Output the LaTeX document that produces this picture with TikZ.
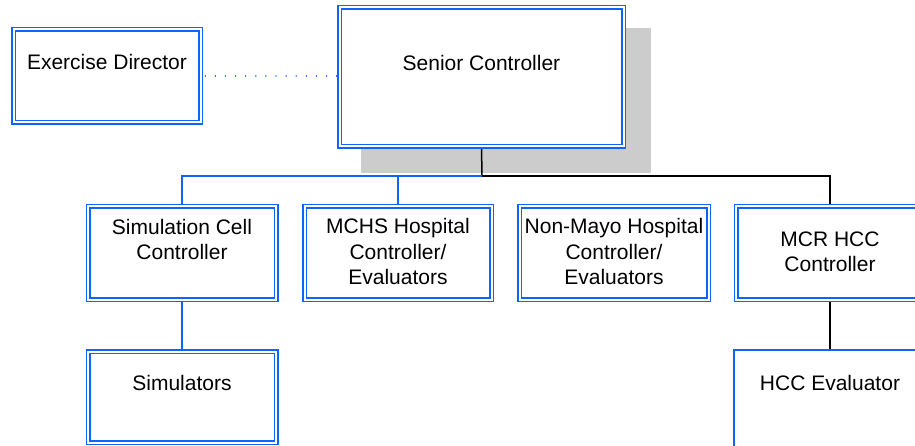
\documentclass[tikz,border=0pt]{standalone}
\usepackage{fontspec}
\setmainfont{Liberation Sans}
\definecolor{bblue}{RGB}{15,100,255}
\definecolor{sgray}{RGB}{204,204,204}
\pgfdeclarelayer{shadowlayer}
\pgfdeclarelayer{linelayer}
\pgfsetlayers{shadowlayer,linelayer,main}
\begin{document}
\begin{tikzpicture}[x=1pt,y=-1pt,
  dbox/.style={draw=bblue, double=white, double distance=2pt, line width=1.5pt, fill=white, rectangle, inner sep=0pt},
  sbox/.style={draw=bblue, line width=1.7pt, fill=white, rectangle, inner sep=0pt},
  lbl/.style={font=\fontsize{21}{25.3}\selectfont, align=center, anchor=base, inner sep=0pt, text=black},
  bline/.style={draw=bblue, line width=1.5pt},
  kline/.style={draw=black, line width=1.5pt},
  dotline/.style={draw=bblue, line width=1.3pt, line cap=round, dash pattern=on 0.1pt off 10pt, dash phase=-4pt}]
\useasboundingbox (0,0) rectangle (915,446);
\clip (0,0) rectangle (915,446);
% boxes
\node[dbox, minimum width=187pt, minimum height=93pt] (ed) at (107,76) {};
\node[dbox, minimum width=284pt, minimum height=139pt] (sc) at (481.5,77) {};
\node[dbox, minimum width=188pt, minimum height=93pt] (simc) at (182,253) {};
\node[dbox, minimum width=187pt, minimum height=93pt] (mchs) at (398,253) {};
\node[dbox, minimum width=189pt, minimum height=93pt] (nonm) at (614,253) {};
\node[dbox, minimum width=188pt, minimum height=93pt] (mcr) at (830,253) {};
\node[dbox, minimum width=188pt, minimum height=91pt] (sims) at (182,397) {};
\node[sbox, minimum width=192pt, minimum height=110pt] (hcce) at (830,405) {};
% shadow
\begin{pgfonlayer}{shadowlayer}
\node[fill=sgray, minimum width=290pt, minimum height=145pt, inner sep=0pt] (shadow) at (506,100.5) {};
\end{pgfonlayer}
% connectors
\coordinate (bus) at (482,176);
\begin{pgfonlayer}{linelayer}
\draw[dotline] (ed.east) -- (ed.east -| sc.west);
\draw[kline] (sc.south) -- (bus);
\draw[kline] (bus) -| (mcr.north);
\draw[bline] (bus) -| (simc.north);
\draw[bline] (mchs.north) -- (mchs.north |- bus);
\draw[bline] (simc.south) -- (sims.north);
\draw[kline] (mcr.south) -- (hcce.north);
\end{pgfonlayer}
% labels
\node[lbl] (edt) at (107,70) {Exercise Director};
\node[lbl] (sct) at (481.5,71) {Senior Controller};
\node[lbl] (simct) at (182,259.5) {Simulation Cell\\Controller};
\node[lbl] (mchst) at (398,284.5) {MCHS Hospital\\Controller/\\Evaluators};
\node[lbl] (nonmt) at (614,284.5) {Non-Mayo Hospital\\Controller/\\Evaluators};
\node[lbl] (mcrt) at (830,271.5) {MCR HCC\\Controller};
\node[lbl] (simst) at (182,390.5) {Simulators};
\node[lbl] (hccet) at (830,390.5) {HCC Evaluator};
\end{tikzpicture}
\end{document}
